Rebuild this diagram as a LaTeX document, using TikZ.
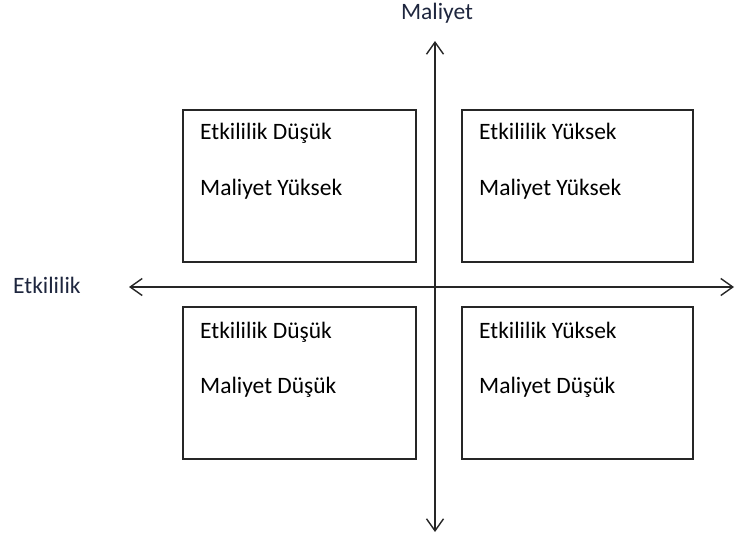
\documentclass[tikz,border=0pt]{standalone}
\usepackage{fontspec}
\setmainfont{Carlito}
\usetikzlibrary{arrows.meta}
\definecolor{navytext}{RGB}{30,38,62}
\begin{document}
\begin{tikzpicture}[x=1pt,y=-1pt,
  quad/.style={draw=black!85, line width=1.8pt},
  lbl/.style={anchor=base west, inner sep=0pt, font=\fontsize{23.5}{28}\selectfont},
  axislbl/.style={inner sep=0pt, font=\fontsize{23.5}{28}\selectfont, text=navytext},
  axis/.style={line width=1.4pt, black!85, {Straight Barb[length=12pt,width=17pt,line width=1.4pt]}-{Straight Barb[length=12pt,width=17pt,line width=1.4pt]}}]
\useasboundingbox (0,0) rectangle (735,540);
% boxes
\draw[quad] (183,110) rectangle (416,262);
\draw[quad] (462,110) rectangle (693,262);
\draw[quad] (183,307) rectangle (416,459);
\draw[quad] (462,307) rectangle (693,459);
% axes
\coordinate (top) at (435,41);
\coordinate (bot) at (435,532);
\coordinate (lft) at (129,287);
\coordinate (rgt) at (734,287);
\draw[axis] (top) -- (bot);
\draw[axis] (lft) -- (rgt);
% axis labels
\node[axislbl, anchor=base] (ym) at (437,20) {Maliyet};
\node[axislbl, anchor=base west] (xe) at (13,293) {Etkililik};
% texts
\node[lbl] (a1) at (200,140) {Etkililik Düşük};
\node[lbl] (a2) at (200,195) {Maliyet Yüksek};
\node[lbl] (b1) at (479,140) {Etkililik Yüksek};
\node[lbl] (b2) at (479,195) {Maliyet Yüksek};
\node[lbl] (c1) at (200,338) {Etkililik Düşük};
\node[lbl] (c2) at (200,393) {Maliyet Düşük};
\node[lbl] (d1) at (479,338) {Etkililik Yüksek};
\node[lbl] (d2) at (479,393) {Maliyet Düşük};
\end{tikzpicture}
\end{document}
